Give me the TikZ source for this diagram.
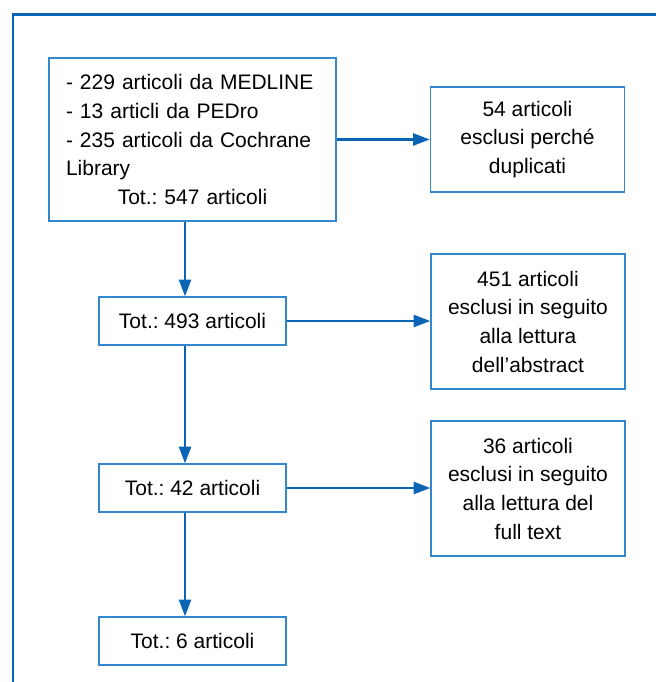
\documentclass[tikz,border=0pt]{standalone}
\usepackage{fontspec}
\setmainfont{Liberation Sans}
\usetikzlibrary{arrows.meta}
\definecolor{frameblue}{RGB}{10,100,180}
\definecolor{boxblue}{RGB}{50,135,205}
\frenchspacing
\begin{document}
\begin{tikzpicture}[x=0.75pt,y=-0.75pt,
  box/.style={draw=boxblue,line width=1pt,inner sep=0pt,align=center,
    font=\fontsize{15.75pt}{21.5pt}\selectfont},
  arr/.style={draw=frameblue,line width=1.7pt,-{Triangle[length=12.5pt,width=9pt]}},
  frame/.style={draw=frameblue,line width=1.9pt}]
\useasboundingbox (0,0) rectangle (656,682);
\fill[white] (0,0) rectangle (656,682);
\draw[frame] (13,700) -- (13,14.5) -- (680,14.5);

\node[box,minimum width=215.25pt,minimum height=122.25pt,text width=189.75pt,align=left] (A) at (192.5,139.5)
  {- 229 articoli da MEDLINE\\- 13 articli da PEDro\\- 235 articoli da Cochrane\\Library\\\makebox[\linewidth]{Tot.: 547 articoli}};
\node[box,minimum width=140.25pt,minimum height=36pt] (B) at (192.5,321) {Tot.: 493 articoli};
\node[box,minimum width=140.25pt,minimum height=36pt] (C) at (192.5,488) {Tot.: 42 articoli};
\node[box,minimum width=140.25pt,minimum height=36pt] (D) at (192.5,641) {Tot.: 6 articoli};

\node[box,minimum width=145.5pt,minimum height=78.75pt] (G) at (527.5,139.5) {54 articoli\\esclusi perché\\duplicati};
\node[box,minimum width=145.5pt,minimum height=101.25pt] (E) at (528,321.5) {451 articoli\\esclusi in seguito\\alla lettura\\dell'abstract};
\node[box,minimum width=145.5pt,minimum height=101.25pt] (F) at (528,488.5) {36 articoli\\esclusi in seguito\\alla lettura del\\full text};

\draw[arr] ([xshift=-5.6pt]A.south) -- ([xshift=-5.6pt]B.north);
\draw[arr] ([xshift=-5.6pt]B.south) -- ([xshift=-5.6pt]C.north);
\draw[arr] ([xshift=-5.6pt]C.south) -- ([xshift=-5.6pt]D.north);
\draw[arr] (A.east) -- (A.east -| G.west);
\draw[arr] (B.east) -- (B.east -| E.west);
\draw[arr] (C.east) -- (C.east -| F.west);
\end{tikzpicture}
\end{document}
